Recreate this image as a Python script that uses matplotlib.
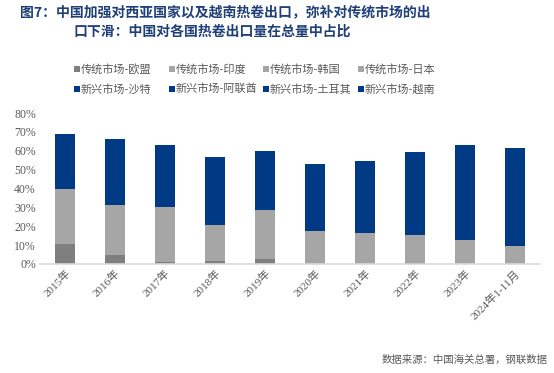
import matplotlib
matplotlib.use("Agg")
import matplotlib.pyplot as plt
from matplotlib.patches import Rectangle
import numpy as np

CJK = "Noto Sans CJK SC"
SERIF = "Liberation Serif"
plt.rcParams["font.family"] = [SERIF, CJK, "DejaVu Sans"]

TITLE_C = "#1F3F77"
TEXT_C = "#595959"
DARK_GRAY = "#7F7F7F"
LIGHT_GRAY = "#A6A6A6"
NAVY = "#003A85"

years = ["2015年", "2016年", "2017年", "2018年", "2019年", "2020年",
         "2021年", "2022年", "2023年", "2024年1-11月"]

# share of total hot-rolled coil exports (%), traditional markets
eu = [10.7, 4.8, 1.1, 1.6, 2.7, 0.0, 0.0, 0.5, 0.0, 0.0]
india = [7.5, 6.0, 7.0, 4.5, 6.5, 3.5, 4.0, 3.0, 2.5, 2.0]
korea = [17.0, 16.0, 17.5, 11.0, 15.6, 11.0, 9.5, 9.0, 8.0, 5.8]
japan = [4.8, 4.6, 4.8, 3.7, 4.0, 3.1, 3.0, 3.0, 2.3, 1.8]
# new markets
saudi = [5.0, 7.0, 6.5, 7.5, 6.0, 6.5, 7.5, 9.5, 11.5, 12.0]
uae = [6.0, 7.5, 7.0, 8.0, 7.5, 8.0, 8.0, 9.0, 10.0, 10.5]
turkey = [4.8, 6.2, 6.0, 6.2, 5.4, 5.7, 6.4, 8.2, 10.6, 11.2]
vietnam = [13.0, 14.0, 13.0, 14.0, 12.0, 15.0, 16.0, 17.0, 18.0, 18.0]

series = [
    ("传统市场-欧盟", eu, DARK_GRAY),
    ("传统市场-印度", india, LIGHT_GRAY),
    ("传统市场-韩国", korea, LIGHT_GRAY),
    ("传统市场-日本", japan, LIGHT_GRAY),
    ("新兴市场-沙特", saudi, NAVY),
    ("新兴市场-阿联酋", uae, NAVY),
    ("新兴市场-土耳其", turkey, NAVY),
    ("新兴市场-越南", vietnam, NAVY),
]

W, H = 554, 373
fig = plt.figure(figsize=(W / 100, H / 100), dpi=100)
ax = fig.add_axes([40 / W, 1 - 264 / H, 500 / W, 151 / H])

x = np.arange(len(years))
bottom = np.zeros(len(years))
for name, vals, color in series:
    v = np.array(vals) / 100
    ax.bar(x, v, bottom=bottom, width=0.4, color=color, label=name, linewidth=0)
    bottom += v

ax.set_xlim(-0.5, len(years) - 0.5)
ax.set_ylim(0, 0.8)
yt = np.arange(0, 0.81, 0.1)
ax.set_yticks(yt)
ax.set_yticklabels([f"{int(round(t * 100))}%" for t in yt], fontsize=8.5, color=TEXT_C)
ax.set_xticks(x)
ax.set_xticklabels(years, rotation=45, ha="right", rotation_mode="anchor",
                   fontsize=8, color=TEXT_C)
ax.tick_params(length=0, pad=3)
for s in ("top", "right", "left"):
    ax.spines[s].set_visible(False)
ax.spines["bottom"].set_color("#D9D9D9")
ax.spines["bottom"].set_linewidth(1.2)

# legend: two rows of four, fixed column pitch like the source
for i, (name, _, color) in enumerate(series):
    col, row = i % 4, i // 4
    lx = 77 + col * 94.5
    ly = 69 + row * 20
    fig.add_artist(Rectangle(((lx - 3) / W, 1 - (ly + 3) / H), 6 / W, 6 / H,
                             transform=fig.transFigure, color=color, lw=0))
    fig.text((lx + 4) / W, 1 - ly / H, name, family=[CJK], fontsize=8,
             color=TEXT_C, va="center", ha="left")

fig.text(20 / W, 1 - 12 / H, "图7：中国加强对西亚国家以及越南热卷出口，弥补对传统市场的出",
         family=[CJK], fontsize=10, fontweight="bold", color=TITLE_C, va="center")
fig.text(73 / W, 1 - 32 / H, "口下滑：中国对各国热卷出口量在总量中占比",
         family=[CJK], fontsize=10, fontweight="bold", color=TITLE_C, va="center")
fig.text(548 / W, 1 - 360 / H, "数据来源：中国海关总署，钢联数据",
         family=[CJK], fontsize=7.5, color=TEXT_C, ha="right", va="center")

fig.savefig("out.png", dpi=100, facecolor="white")
